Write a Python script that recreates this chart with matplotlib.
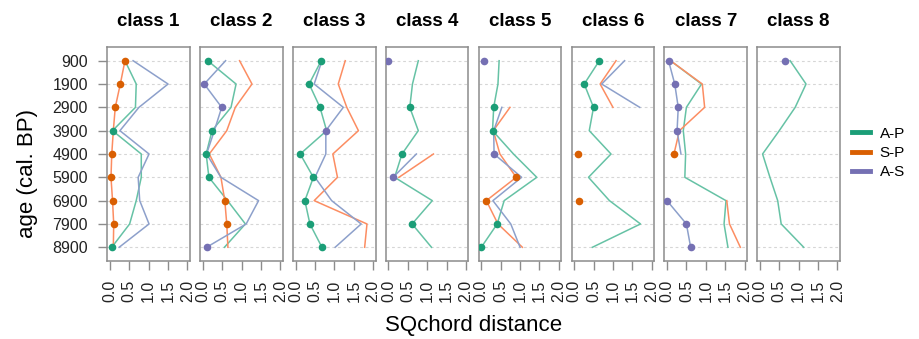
import numpy as np
import matplotlib
matplotlib.use('Agg')
import matplotlib.pyplot as plt
from matplotlib.lines import Line2D

plt.rcParams['font.family'] = ['Liberation Sans', 'DejaVu Sans']

nan = np.nan
ages = [900, 1900, 2900, 3900, 4900, 5900, 6900, 7900, 8900]
classes = ['class 1', 'class 2', 'class 3', 'class 4', 'class 5', 'class 6', 'class 7', 'class 8']
series_names = ['A-P', 'S-P', 'A-S']
xticks = [0.0, 0.5, 1.0, 1.5, 2.0]
xticklabels = ['0.0', '0.5', '1.0', '1.5', '2.0']

# SQchord distances per class (rows) and age (columns)
AP = [
    [0.39, 0.68, 0.66, 0.07, 0.81, 0.81, 0.68, 0.51, 0.05],
    [0.13, 0.86, 0.73, 0.24, 0.09, 0.16, 0.64, 1.10, 0.56],
    [0.66, 0.35, 0.63, 0.80, 0.12, 0.46, 0.24, 0.37, 0.68],
    [0.77, 0.62, 0.55, 0.77, 0.35, 0.16, 1.13, 0.61, 1.11],
    [0.46, 0.43, 0.32, 0.29, 0.83, 1.43, 0.59, 0.41, 0.00],
    [0.65, 0.26, 0.50, 0.39, 0.95, 0.37, 0.91, 1.71, 0.47],
    [0.09, 0.89, 0.50, 0.42, 0.48, 0.46, 1.52, 1.47, 1.57],
    [0.78, 1.19, 0.91, 0.50, 0.07, 0.26, 0.46, 0.55, 1.13],
]
SP = [
    [0.39, 0.27, 0.14, 0.09, 0.05, 0.03, 0.07, 0.10, 0.09],
    [0.95, 1.27, 0.84, 0.62, 0.17, 0.47, 0.57, 0.62, 0.65],
    [1.28, 1.10, 1.32, 1.62, 0.96, 1.08, 0.48, 1.84, 1.78],
    [nan, nan, nan, nan, 1.16, 0.27, nan, nan, nan],
    [nan, nan, 0.74, 0.31, 0.48, 0.90, 0.13, 0.43, 1.06],
    [1.08, 0.67, 1.00, nan, 0.09, nan, 0.13, nan, nan],
    [0.09, 0.91, 0.97, 0.32, 0.18, nan, 1.54, 1.61, 1.89],
    [nan, nan, nan, nan, nan, nan, nan, nan, nan],
]
AS = [
    [0.60, 1.50, 0.75, 0.26, 1.01, 0.73, 0.77, 1.01, 0.24],
    [0.59, 0.04, 0.49, 0.30, 0.10, 0.47, 1.44, 1.12, 0.10],
    [0.68, 0.48, 1.23, 0.78, 0.78, 0.50, 0.93, 1.69, 1.02],
    [0.00, nan, nan, nan, 0.72, 0.12, nan, nan, nan],
    [0.07, nan, 0.53, 0.32, 0.33, 1.04, 0.30, 0.76, 1.00],
    [1.30, 0.71, 1.69, nan, nan, nan, nan, nan, nan],
    [0.04, 0.20, 0.29, 0.26, 0.36, nan, 0.00, 0.50, 0.61],
    [0.65, nan, nan, nan, nan, nan, nan, nan, nan],
]
# series marked with a dot (closest pair) at each age, None = no dot
marked = [
    ['S-P', 'S-P', 'S-P', 'A-P', 'S-P', 'S-P', 'S-P', 'S-P', 'A-P'],
    ['A-P', 'A-S', 'A-S', 'A-P', 'A-P', 'A-P', 'S-P', 'S-P', 'A-S'],
    ['A-P', 'A-P', 'A-P', 'A-S', 'A-P', 'A-P', 'A-P', 'A-P', 'A-P'],
    ['A-S', None, 'A-P', None, 'A-P', 'A-S', None, 'A-P', None],
    ['A-S', None, 'A-P', 'A-P', 'A-S', 'S-P', 'S-P', 'A-P', 'A-P'],
    ['A-P', 'A-P', 'A-P', None, 'S-P', None, 'S-P', None, None],
    ['A-S', 'A-S', 'A-S', 'A-S', 'S-P', None, 'A-S', 'A-S', 'A-S'],
    ['A-S', None, None, None, None, None, None, None, None],
]

data = {'A-P': AP, 'S-P': SP, 'A-S': AS}
dark = {'A-P': '#1b9e77', 'S-P': '#d95f02', 'A-S': '#7570b3'}
light = {'A-P': '#66c2a5', 'S-P': '#fc8d62', 'A-S': '#8da0cb'}

W, H = 919, 339
fig = plt.figure(figsize=(W / 100, H / 100), dpi=100)
spine_col = '#8c8c8c'
for k, cname in enumerate(classes):
    left = 107.3 + 92.86 * k
    ax = fig.add_axes([left / W, 1 - 260.7 / H, 82.5 / W, 213.4 / H])
    for a in ages:
        ax.axhline(a, color='#d6d6d6', lw=0.8, ls=(0, (2.5, 2.5)), zorder=0)
    for s in series_names:
        ax.plot(np.array(data[s][k], dtype=float), ages, color=light[s], lw=1.1, zorder=2)
    for j, a in enumerate(ages):
        s = marked[k][j]
        if s is not None:
            ax.plot(data[s][k][j], a, 'o', color=dark[s], ms=5.5, mec='none', zorder=3)
    ax.set_xlim(-0.065, 2.06)
    ax.set_ylim(9475, 325)
    ax.set_xticks(xticks)
    ax.set_xticklabels(xticklabels, rotation=90, fontsize=11.5, color='#222222')
    ax.set_yticks(ages)
    ax.set_yticklabels([str(a) for a in ages], fontsize=11.5, color='#222222')
    ax.tick_params(axis='both', length=6.5, width=1.0, color=spine_col, pad=7.5)
    if k > 0:
        ax.tick_params(axis='y', left=False, labelleft=False)
    for sp in ax.spines.values():
        sp.set_color(spine_col)
        sp.set_linewidth(1.1)
    ax.set_title(cname, fontsize=13.5, fontweight='bold', pad=15)

fig.text(473.3 / W, 1 - 326 / H, 'SQchord distance', ha='center', va='center', fontsize=16)
fig.text(28 / W, 1 - 173 / H, 'age (cal. BP)', ha='center', va='center', rotation=90, fontsize=16)

handles = [Line2D([0], [0], color=dark[s], lw=3.5) for s in series_names]
fig.legend(handles, series_names, loc='center left', bbox_to_anchor=(852 / W, 1 - 153 / H),
           frameon=False, fontsize=11, handlelength=1.2, handletextpad=0.6,
           labelspacing=0.35, borderpad=0, borderaxespad=0)

fig.savefig('out.png', dpi=100)
